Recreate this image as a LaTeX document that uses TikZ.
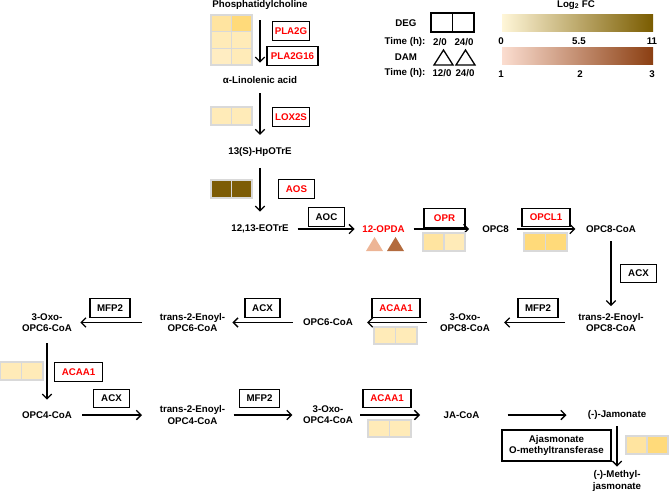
\documentclass[tikz,border=0pt]{standalone}
\usepackage{fontspec}
\setmainfont{Liberation Sans}
\usetikzlibrary{arrows.meta}

\definecolor{cellgray}{HTML}{D9D9D9}
\definecolor{heatA}{HTML}{FFEDC2}
\definecolor{heatB}{HTML}{FFEBB8}
\definecolor{heatC}{HTML}{FFE4A0}
\definecolor{heatD}{HTML}{FFDA7A}
\definecolor{heatE}{HTML}{7D5C06}
\definecolor{damA}{HTML}{EDB596}
\definecolor{damB}{HTML}{B36B3E}
\definecolor{degLow}{HTML}{FFF6D8}
\definecolor{degMid}{HTML}{FFDC6A}
\definecolor{degHigh}{HTML}{7A5C00}
\definecolor{damLow}{HTML}{FBDDD0}
\definecolor{damMid}{HTML}{EFA886}
\definecolor{damHigh}{HTML}{8B3F12}

\begin{document}
\begin{tikzpicture}[x=0.03cm, y=-0.03cm,
    font=\fontsize{8.3}{9.5}\selectfont\bfseries,
    met/.style={inner sep=0pt, align=center},
    enz/.style={draw, line width=1.1pt, inner sep=2pt, align=center, minimum width=1.1cm, minimum height=0.56cm},
    redenz/.style={enz, text=red},
    cell/.style={draw=cellgray, line width=1.2pt},
    flow/.style={-{Straight Barb[length=4pt,width=8pt]}, line width=1.1pt}]
  \useasboundingbox (0,0) rectangle (669,491);

  % 1. Legend
  \node (deg) at (406,23) {DEG};
  \draw[line width=1.1pt] (431,13) rectangle (474,32) (452.5,13) -- (452.5,32);
  \node (tdeg) at (405,42) {Time (h):};
  \node (degA) at (440,42) {2/0};
  \node (degB) at (464,42) {24/0};
  \node (dam) at (406,57) {DAM};
  \draw[line width=1.1pt] (434,65) -- (443.5,50) -- (453,65) -- cycle;
  \draw[line width=1.1pt] (456,65) -- (465.5,50) -- (475,65) -- cycle;
  \node (tdam) at (405,73) {Time (h):};
  \node (damA) at (442,73) {12/0};
  \node (damB) at (465,73) {24/0};
  \node (logfc) at (576,5) {Log\textsubscript{2} FC};
  \shade[left color=degLow, middle color=degMid, right color=degHigh] (502,14) rectangle (653,31);
  \shade[left color=damLow, middle color=damMid, right color=damHigh] (502,47) rectangle (653,64);
  \node (degmin) at (501,41) {0};
  \node (degmid) at (579,41) {5.5};
  \node (degmax) at (652,41) {11};
  \node (dammin) at (501,74) {1};
  \node (dammid) at (580,74) {2};
  \node (dammax) at (652,74) {3};

  % 2. Metabolites
  \node[met] (pc) at (260,5) {Phosphatidylcholine};
  \node[met] (ala) at (260,80) {α-Linolenic acid};
  \node[met] (hpo) at (260,152) {13(S)-HpOTrE};
  \node[met] (eot) at (260,229) {12,13-EOTrE};
  \node[met, text=red] (opda) at (383.5,229) {12-OPDA};
  \node[met] (opc8) at (495.5,229) {OPC8};
  \node[met] (opc8coa) at (611,229) {OPC8-CoA};
  \node[met] (enoyl8) at (611,322.5) {trans-2-Enoyl-\\OPC8-CoA};
  \node[met] (oxo8) at (465,322.5) {3-Oxo-\\OPC8-CoA};
  \node[met] (opc6) at (328,322.5) {OPC6-CoA};
  \node[met] (enoyl6) at (192.5,322.5) {trans-2-Enoyl-\\OPC6-CoA};
  \node[met] (oxo6) at (47,322.5) {3-Oxo-\\OPC6-CoA};
  \node[met] (opc4) at (47,415) {OPC4-CoA};
  \node[met] (enoyl4) at (192.5,415) {trans-2-Enoyl-\\OPC4-CoA};
  \node[met] (oxo4) at (328,415) {3-Oxo-\\OPC4-CoA};
  \node[met] (jacoa) at (461.5,415) {JA-CoA};
  \node[met] (jam) at (617,415) {(-)-Jamonate};
  \node[met] (mej) at (617,481) {(-)-Methyl-\\jasmonate};

  % 3. Reactions
  \draw[flow, shorten <=9pt, shorten >=11.5pt] (pc) -- (ala);
  \draw[flow, shorten <=8pt, shorten >=10.5pt] (ala) -- (hpo);
  \draw[flow, shorten <=9.5pt, shorten >=11pt] (hpo) -- (eot);
  \draw[flow, shorten <=7.5pt, shorten >=6.5pt] (eot) -- (opda);
  \draw[flow, shorten <=7.5pt, shorten >=11pt] (opda) -- (opc8);
  \draw[flow, shorten <=7pt, shorten >=9pt] (opc8) -- (opc8coa);
  \draw[flow, shorten <=7.5pt, shorten >=6pt] (opc8coa) -- (enoyl8);
  \draw[flow, shorten <=11pt, shorten >=12pt] (enoyl8) -- (oxo8);
  \draw[flow, shorten <=11pt, shorten >=12pt] (oxo8) -- (opc6);
  \draw[flow, shorten <=8.5pt, shorten >=6pt] (opc6) -- (enoyl6);
  \draw[flow, shorten <=15pt, shorten >=7pt] (enoyl6) -- (oxo6);
  \draw[flow, shorten <=10pt, shorten >=10pt] (oxo6) -- (opc4);
  \draw[flow, shorten <=8.5pt, shorten >=15pt] (opc4) -- (enoyl4);
  \draw[flow, shorten <=7pt, shorten >=9pt] (enoyl4) -- (oxo4);
  \draw[flow, shorten <=6pt, shorten >=20pt] (oxo4) -- (jacoa);
  \draw[flow, shorten <=24pt, shorten >=18pt] (jacoa) -- (jam);
  \draw[flow, shorten <=5.5pt, shorten >=3.5pt] (jam) -- (mej);

  % 4. Enzymes
  \node[redenz] (pla2g) at (291,31) {PLA2G};
  \node[redenz, minimum width=1.53cm] (pla2g16) at (292.5,56) {PLA2G16};
  \node[redenz] (lox2s) at (291,117) {LOX2S};
  \node[redenz] (aos) at (296.5,189) {AOS};
  \node[enz] (aoc) at (326.5,217) {AOC};
  \node[redenz, minimum width=1.23cm] (opr) at (444.5,218) {OPR};
  \node[redenz, minimum width=1.44cm] (opcl) at (546,217.5) {OPCL1};
  \node[enz, minimum width=1.08cm] (acx8) at (638.5,273.5) {ACX};
  \node[enz, minimum width=1.2cm] (mfp8) at (538,308) {MFP2};
  \node[redenz, minimum width=1.44cm] (acaa8) at (396,308) {ACAA1};
  \node[enz, minimum width=1.05cm] (acx6) at (262.5,308) {ACX};
  \node[enz, minimum width=1.2cm] (mfp6) at (110,308) {MFP2};
  \node[redenz, minimum width=1.44cm] (acaa6) at (78.5,372) {ACAA1};
  \node[enz, minimum width=1.08cm] (acx4) at (111.5,398.5) {ACX};
  \node[enz, minimum width=1.2cm] (mfp4) at (259.5,398.5) {MFP2};
  \node[redenz, minimum width=1.44cm] (acaa4) at (387,398.5) {ACAA1};
  \node[enz, minimum width=3.27cm, minimum height=0.93cm] (jmt) at (556.5,445.5) {Ajasmonate\\O-methyltransferase};

  % 5. Expression cells (DEG) and metabolite triangles (DAM)
  \filldraw[cell, fill=heatC] (211,15) rectangle (231.5,31.7);
  \filldraw[cell, fill=heatD] (231.5,15) rectangle (252,31.7);
  \filldraw[cell, fill=heatB] (211,31.7) rectangle (231.5,48.3);
  \filldraw[cell, fill=heatB] (231.5,31.7) rectangle (252,48.3);
  \filldraw[cell, fill=heatA] (211,48.3) rectangle (231.5,65);
  \filldraw[cell, fill=heatB] (231.5,48.3) rectangle (252,65);
  \filldraw[cell, fill=heatB] (211,107) rectangle (231.5,125);
  \filldraw[cell, fill=heatB] (231.5,107) rectangle (252,125);
  \filldraw[cell, fill=heatE] (211,180) rectangle (231.5,198);
  \filldraw[cell, fill=heatE] (231.5,180) rectangle (252,198);
  \filldraw[cell, fill=heatC] (423,233) rectangle (444,251);
  \filldraw[cell, fill=heatB] (444,233) rectangle (465,251);
  \filldraw[cell, fill=heatD] (524,233) rectangle (545.5,251);
  \filldraw[cell, fill=heatD] (545.5,233) rectangle (567,251);
  \filldraw[cell, fill=heatB] (374,327) rectangle (395.5,344);
  \filldraw[cell, fill=heatB] (395.5,327) rectangle (417,344);
  \filldraw[cell, fill=heatB] (0,362) rectangle (21.5,380);
  \filldraw[cell, fill=heatB] (21.5,362) rectangle (43,380);
  \filldraw[cell, fill=heatB] (368,420) rectangle (389.5,437);
  \filldraw[cell, fill=heatB] (389.5,420) rectangle (411,437);
  \filldraw[cell, fill=heatC] (626,436) rectangle (647,454);
  \filldraw[cell, fill=heatD] (647,436) rectangle (668,454);
  \fill[damA] (366,251) -- (374.5,237) -- (383,251) -- cycle;
  \fill[damB] (387,251) -- (395.5,237) -- (404,251) -- cycle;
\end{tikzpicture}
\end{document}
